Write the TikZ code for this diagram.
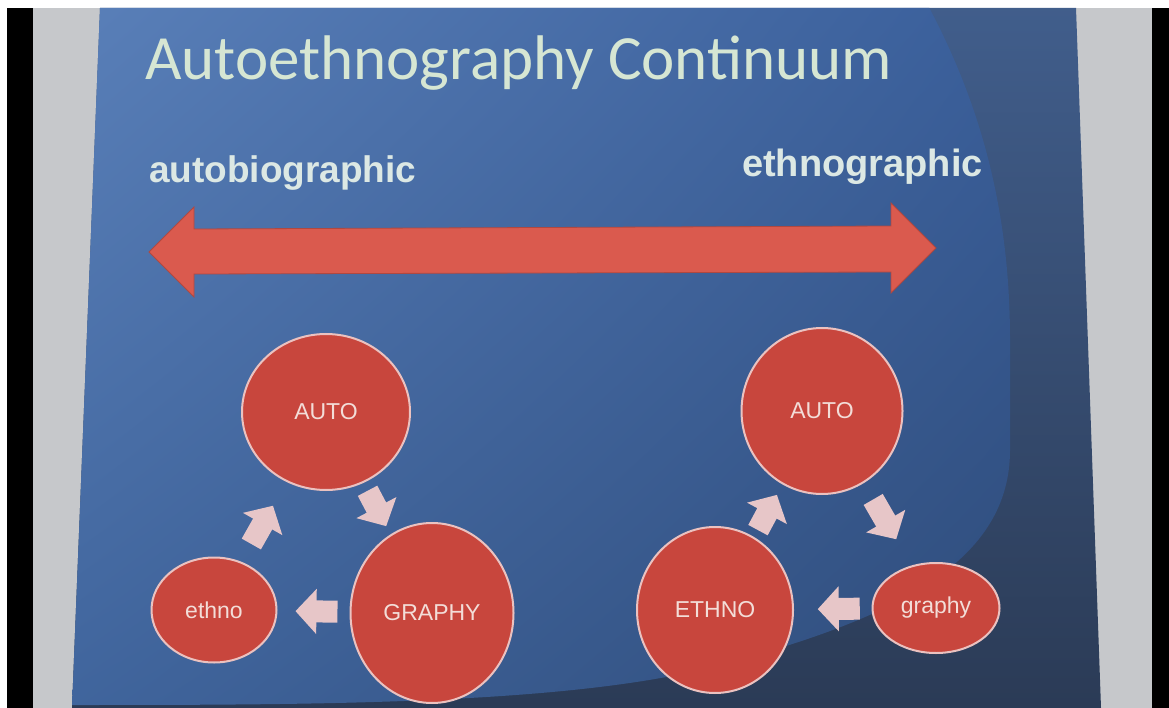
\documentclass[tikz,border=0pt]{standalone}
\usepackage{fontspec}
\setmainfont{Liberation Sans}
\newfontfamily\titlefont{Carlito}
\usetikzlibrary{calc,shapes.geometric,arrows.meta,shadings}
\definecolor{greyedge}{HTML}{C6C8CB}
\definecolor{lightUL}{HTML}{5A80B9}
\definecolor{lightUR}{HTML}{3A5F9B}
\definecolor{lightLL}{HTML}{40659D}
\definecolor{lightLR}{HTML}{2F4C7A}
\definecolor{darkT}{HTML}{415E8C}
\definecolor{darkB}{HTML}{2B3B56}
\definecolor{bigarrow}{HTML}{DA5A4E}
\definecolor{bigarrowedge}{HTML}{B04840}
\definecolor{blockpink}{HTML}{E7C6C8}
\definecolor{circfill}{HTML}{C8463D}
\definecolor{circedge}{HTML}{EBC2C0}
\definecolor{circtext}{HTML}{F3DDD8}
\definecolor{titlecol}{HTML}{D6E6D3}
\definecolor{subcol}{HTML}{DCE8E4}
\tikzset{
  bubble/.style={ellipse, draw=circedge, line width=2pt, fill=circfill,
    inner sep=0pt, text=circtext, font=\fontsize{23}{28}\selectfont},
  blk/.style={draw=blockpink, line width=22pt,
    -{Triangle[length=21pt,width=44pt]}},
  sublabel/.style={anchor=base west, inner sep=0pt, text=subcol,
    font=\bfseries\fontsize{37}{44}\selectfont}
}
\begin{document}
\begin{tikzpicture}[x=1pt,y=-1pt]
\useasboundingbox (0,0) rectangle (1169,708);
% photo margins
\fill[white] (0,0) rectangle (1169,708);
\fill[black] (7,8) rectangle (1169,708);
\fill[greyedge] (33,8) rectangle (1152,708);
% slide background
\begin{scope}
\clip (100,8) -- (1076,8) -- (1101,708) -- (72,708) -- cycle;
\shade[top color=darkT, bottom color=darkB] (60,0) rectangle (1110,708);
\shade[upper left=lightUL, upper right=lightUR, lower left=lightLL, lower right=lightLR]
  (60,0) -- (925,0) .. controls (985,110) and (1010,220) .. (1010,340)
  -- (1010,450) .. controls (1010,560) and (900,620) .. (700,670)
  .. controls (550,705) and (300,705) .. (60,705) -- cycle;
\end{scope}
% title and labels
\node[anchor=base west, inner sep=0pt, text=titlecol,
  font=\titlefont\fontsize{63}{70}\selectfont] (title) at (145,80)
  {Autoethnography Continuum};
\node[sublabel] (lefttag) at (149,183) {autobiographic};
\node[sublabel, font=\bfseries\fontsize{38}{44}\selectfont] (righttag) at (742,177) {ethnographic};
% continuum double arrow
\fill[bigarrow, draw=bigarrowedge, line width=0.8pt]
  (149,252) -- (194,207) -- (194,229) -- (891,226) -- (891,203)
  -- (936,248) -- (891,293) -- (891,272) -- (194,274) -- (194,297) -- cycle;
% left cycle
\node[bubble, minimum width=168pt, minimum height=156pt] (autoL) at (326,412) {AUTO};
\node[bubble, minimum width=125pt, minimum height=105pt] (ethnoL) at (214,610) {ethno};
\node[bubble, minimum width=163pt, minimum height=180pt] (graphyL) at (432,613) {GRAPHY};
% right cycle
\node[bubble, minimum width=161pt, minimum height=166pt] (autoR) at (822,411) {AUTO};
\node[bubble, minimum width=156pt, minimum height=166pt] (ethnoR) at (715,610) {ETHNO};
\node[bubble, minimum width=127pt, minimum height=90pt] (graphyR) at (936,608) {graphy};
% block arrows (left)
\coordinate (m1) at ($(ethnoL)!0.43!(autoL)$);
\coordinate (m2) at ($(autoL)!0.48!(graphyL)$);
\coordinate (m3) at ($(graphyL)!0.53!(ethnoL)$);
\draw[blk] ($(m1)!-22pt!(autoL)$) -- ($(m1)!22pt!(autoL)$);
\draw[blk] ($(m2)!-20pt!(graphyL)$) -- ($(m2)!20pt!(graphyL)$);
\draw[blk] ($(m3)!-21pt!(ethnoL)$) -- ($(m3)!21pt!(ethnoL)$);
% block arrows (right)
\coordinate (n1) at ($(ethnoR)!0.49!(autoR)$);
\coordinate (n2) at ($(autoR)!0.55!(graphyR)$);
\coordinate (n3) at ($(graphyR)!0.44!(ethnoR)$);
\draw[blk] ($(n1)!-20pt!(autoR)$) -- ($(n1)!20pt!(autoR)$);
\draw[blk] ($(n2)!-23pt!(graphyR)$) -- ($(n2)!23pt!(graphyR)$);
\draw[blk] ($(n3)!-21pt!(ethnoR)$) -- ($(n3)!21pt!(ethnoR)$);
\end{tikzpicture}
\end{document}
